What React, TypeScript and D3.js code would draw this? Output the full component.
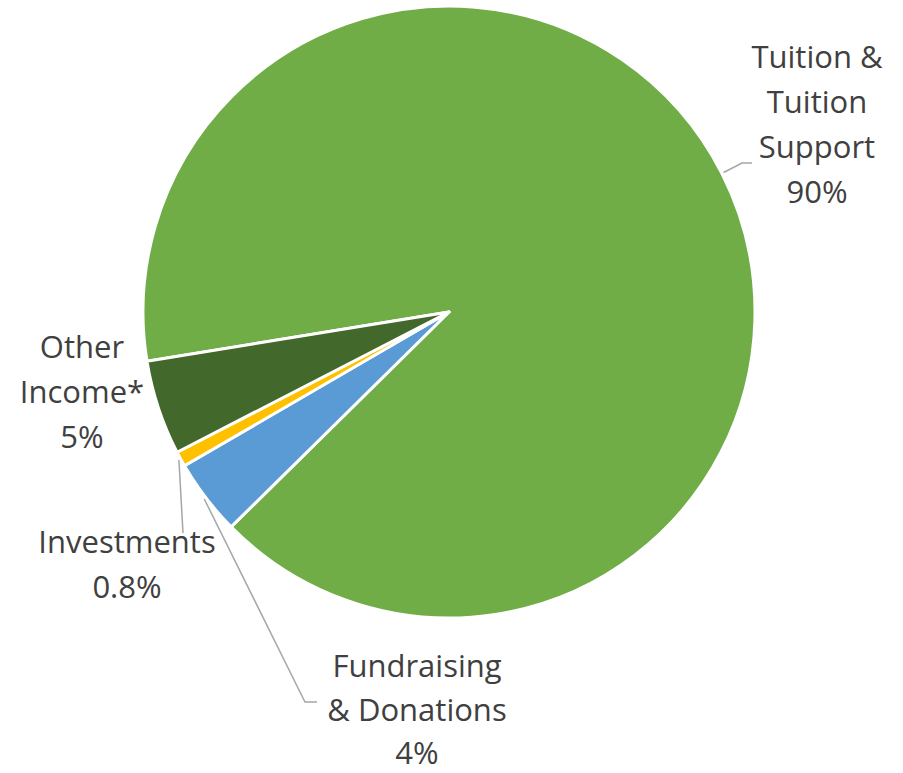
import React from "react";
import * as d3 from "d3";

const categories = ["Tuition & Tuition Support", "Fundraising & Donations", "Investments", "Other Income*"];
const values = [90, 4, 0.8, 5];
const valueLabels = ["90%", "4%", "0.8%", "5%"];
const labelLines = [
  ["Tuition &", "Tuition", "Support", "90%"],
  ["Fundraising", "& Donations", "4%"],
  ["Investments", "0.8%"],
  ["Other", "Income*", "5%"],
];
const colors = ["#70AD47", "#5B9BD5", "#FFC000", "#43682B"];

const W = 903;
const H = 773;
const cx = 449;
const cy = 312;
const R = 306;
const startDeg = 260.75;

// label layout: center x, first baseline, line gap, and optional leader elbow/end
const labelLayout = [
  { x: 817, y: 68, gap: 45, leader: [[742, 163], [752, 163]] },
  { x: 417, y: 677, gap: 43.5, leader: [[305, 702], [317, 702]] },
  { x: 127, y: 553, gap: 45, leader: [[183, 533]] },
  { x: 82, y: 358, gap: 45, leader: null as number[][] | null },
];

export default function App() {
  const start = (startDeg * Math.PI) / 180;
  const pie = d3
    .pie<number>()
    .sort(null)
    .value((d) => d)
    .startAngle(start)
    .endAngle(start + 2 * Math.PI);
  const arcs = pie(values);
  const arc = d3.arc<d3.PieArcDatum<number>>().innerRadius(0).outerRadius(R);
  const lineGen = d3.line();

  return (
    <svg width={W} height={H} style={{ display: "block", position: "absolute", left: 0, top: 0 }}>
      <rect width={W} height={H} fill="#ffffff" />
      <g transform={`translate(${cx},${cy})`}>
        {arcs.map((a, i) => (
          <path key={categories[i]} d={arc(a) || ""} fill={colors[i]} stroke="#ffffff" strokeWidth={3} strokeLinejoin="round" />
        ))}
      </g>
      {arcs.map((a, i) => {
        const L = labelLayout[i];
        if (!L.leader) return null;
        const mid = (a.startAngle + a.endAngle) / 2;
        const r0 = R + 2;
        const p0: [number, number] = [cx + r0 * Math.sin(mid), cy - r0 * Math.cos(mid)];
        const pts = [p0, ...(L.leader as [number, number][])];
        return <path key={"l" + i} d={lineGen(pts) || ""} fill="none" stroke="#A6A6A6" strokeWidth={1.5} />;
      })}
      {labelLines.map((lines, i) => (
        <text
          key={"t" + i}
          x={labelLayout[i].x}
          y={labelLayout[i].y}
          textAnchor="middle"
          fontFamily="'Open Sans', sans-serif"
          fontSize={31}
          fill="#404040"
        >
          {lines.map((ln, j) => (
            <tspan key={j} x={labelLayout[i].x} y={labelLayout[i].y + j * labelLayout[i].gap}>
              {ln}
            </tspan>
          ))}
        </text>
      ))}
    </svg>
  );
}
